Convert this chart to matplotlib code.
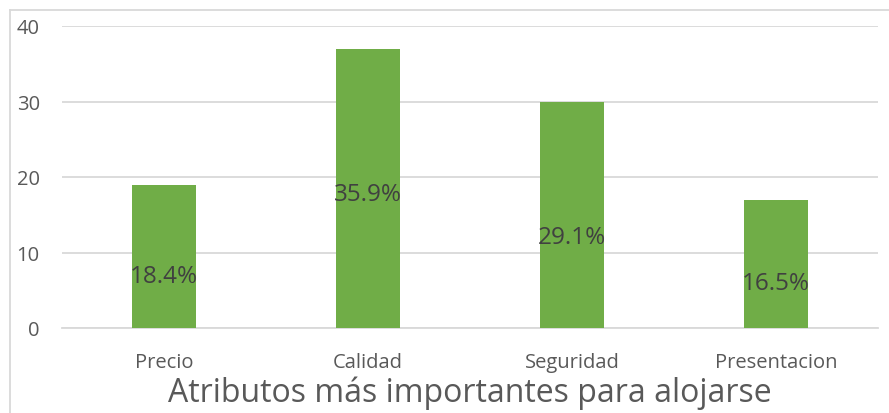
import matplotlib
matplotlib.use("Agg")
import matplotlib.pyplot as plt
from matplotlib.lines import Line2D

categories = ["Precio", "Calidad", "Seguridad", "Presentacion"]
values = [19, 37, 30, 17]
pct_labels = ["18.4%", "35.9%", "29.1%", "16.5%"]
label_frac = [0.36, 0.48, 0.40, 0.35]  # vertical placement of labels within bars
yticks = [0, 10, 20, 30, 40]
xlabel = "Atributos más importantes para alojarse"

plt.rcParams['font.family'] = ['Open Sans', 'DejaVu Sans']

W, H = 889, 414
fig = plt.figure(figsize=(W/100, H/100), dpi=100)
ax = fig.add_axes([62/W, 1 - 329/H, (878-62)/W, (329-27)/H])

x = list(range(len(categories)))
ax.bar(x, values, width=0.31, color="#70AD47", zorder=3)
ax.set_xlim(-0.5, len(categories) - 0.5)
ax.set_ylim(0, 40)
ax.set_yticks(yticks)
ax.set_yticklabels([str(t) for t in yticks])
ax.set_xticks(x)
ax.set_xticklabels(categories)
ax.yaxis.grid(True, color="#D9D9D9", linewidth=1.3, zorder=0)
ax.set_axisbelow(True)
for s in ["top", "right", "left"]:
    ax.spines[s].set_visible(False)
ax.spines["bottom"].set_color("#D9D9D9")
ax.spines["bottom"].set_linewidth(1.3)
ax.tick_params(axis="both", length=0, colors="#595959", labelsize=14.5)
ax.tick_params(axis="y", pad=16)
ax.tick_params(axis="x", pad=17)

for xi, v, lab, f in zip(x, values, pct_labels, label_frac):
    ax.text(xi, v * f, lab, ha="center", va="center", fontsize=17.5, color="#404040", zorder=4)

ax.set_xlabel(xlabel, fontsize=23, color="#595959", labelpad=3)

# chart border (left and top visible)
fig.add_artist(Line2D([10/W, 10/W], [0, 1 - 11/H], transform=fig.transFigure, color="#D9D9D9", linewidth=1.3))
fig.add_artist(Line2D([10/W, 1], [1 - 11/H, 1 - 11/H], transform=fig.transFigure, color="#D9D9D9", linewidth=1.3))

fig.savefig("out.png", dpi=100)
